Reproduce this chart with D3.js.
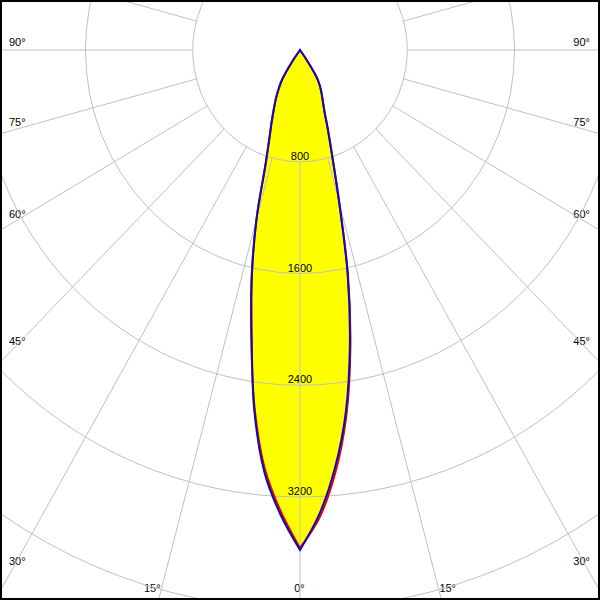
<!DOCTYPE html>
<html>
<head>
<meta charset="utf-8">
<script src="https://cdn.jsdelivr.net/npm/d3@7"></script>
<style>
html,body{margin:0;padding:0;background:#fff;}
svg{display:block;}
text{font-family:"Liberation Sans",Arial,sans-serif;font-size:11px;fill:#000;}
</style>
</head>
<body>
<svg id="chart" width="600" height="600"></svg>
<script>
// gamma angles (degrees from nadir)
const gammaAngles = [0,2.5,5,7.5,10,12.5,15,17.5,20,22.5,25,27.5,30,32.5,35,37.5,40,45,50,55,60,65,70,75,80,85,90];
// C0 plane (red), right half and C180 left half
const c0Values   = [3565,3350,3035,2645,2165,1655,1135,805,612,478,402,348,296,234,85,0,0,0,0,0,0,0,0,0,0,0,0];
const c180Values = [3565,3305,3010,2590,2095,1670,1255,850,664,550,458,386,314,240,100,0,0,0,0,0,0,0,0,0,0,0,0];
// C90 plane (blue) right half and C270 left half
const c90Values  = [3579,3324,3000,2616,2142,1641,1127,801,610,477,402,348,296,234,85,0,0,0,0,0,0,0,0,0,0,0,0];
const c270Values = [3579,3330,3037,2608,2075,1658,1253,850,664,550,458,386,314,240,100,0,0,0,0,0,0,0,0,0,0,0,0];
const ringValues = [800,1600,2400,3200,4000];
const ringLabels = ["800","1600","2400","3200"];
const sideAngleLabels = [90,75,60,45,30];
const bottomAngleLabels = [15,0];

const W = 600, H = 600, cx = 300, cy = 50;
const rX = d3.scaleLinear().domain([0,800]).range([0,107.25]);
const rY = d3.scaleLinear().domain([0,800]).range([0,111.75]);
const ratio = rY(800)/rX(800);
const rad = d => d*Math.PI/180;
const px = (a,I) => cx + rX(I)*Math.sin(rad(a));
const py = (a,I) => cy + rY(I)*Math.cos(rad(a));

const svg = d3.select("#chart");
svg.append("rect").attr("width",W).attr("height",H).attr("fill","#fff");

const line = d3.line().x(d=>px(d[0],d[1])).y(d=>py(d[0],d[1])).curve(d3.curveCatmullRom.alpha(0.5));
// each half drawn separately so the nadir tip stays sharp
function halfPath(left,right){
  const lp = [], rp = [];
  for(let i=gammaAngles.length-1;i>=0;i--) lp.push([-gammaAngles[i], left[i]]);
  for(let i=0;i<gammaAngles.length;i++) rp.push([gammaAngles[i], right[i]]);
  return line(lp) + line(rp).replace(/^M/,"L") + "Z";
}
const redD = halfPath(c180Values,c0Values);
const blueD = halfPath(c270Values,c90Values);

// fill
svg.append("path").attr("d",redD).attr("fill","#ffff00");
svg.append("path").attr("d",blueD).attr("fill","#ffff00");

// ring labels
svg.selectAll("text.ring").data(ringLabels).enter().append("text")
  .attr("class","ring").attr("x",cx).attr("y",(d,i)=>cy+rY(ringValues[i])-2)
  .attr("text-anchor","middle").text(d=>d);

// angle labels
const labelOffset = a => 4 + (90-a)/15*1.1;
sideAngleLabels.forEach(a=>{
  const y = cy + (290/Math.tan(rad(a)))*ratio - labelOffset(a);
  const yy = a===90 ? cy - 4 : y;
  svg.append("text").attr("x",9).attr("y",yy).attr("text-anchor","start").text(a+"°");
  svg.append("text").attr("x",590).attr("y",yy).attr("text-anchor","end").text(a+"°");
});
bottomAngleLabels.forEach(a=>{
  const by = 592;
  const dx = ((by-cy)/ratio)*Math.tan(rad(a));
  if(a===0){
    svg.append("text").attr("x",cx-0.5).attr("y",by).attr("text-anchor","middle").text(a+"°");
  } else {
    svg.append("text").attr("x",cx-dx).attr("y",by).attr("text-anchor","end").text(a+"°");
    svg.append("text").attr("x",cx+dx).attr("y",by).attr("text-anchor","start").text(a+"°");
  }
});

// grid
const grid = svg.append("g").attr("stroke","#c0c0c0").attr("stroke-width",1).attr("fill","none");
ringValues.forEach(v=>{
  grid.append("ellipse").attr("cx",cx).attr("cy",cy).attr("rx",rX(v)).attr("ry",rY(v));
});
d3.range(0,360,15).forEach(a=>{
  grid.append("line")
    .attr("x1",px(a,ringValues[0])).attr("y1",py(a,ringValues[0]))
    .attr("x2",px(a,8000)).attr("y2",py(a,8000));
});

// outlines
svg.append("path").attr("d",redD).attr("fill","none").attr("stroke","#ee0000").attr("stroke-width",2).attr("stroke-linejoin","miter");
svg.append("path").attr("d",blueD).attr("fill","none").attr("stroke","#0c0cb8").attr("stroke-width",2).attr("stroke-linejoin","miter");

// frame
svg.append("rect").attr("x",1).attr("y",1).attr("width",W-2).attr("height",H-2)
  .attr("fill","none").attr("stroke","#000").attr("stroke-width",2);
</script>
</body>
</html>
